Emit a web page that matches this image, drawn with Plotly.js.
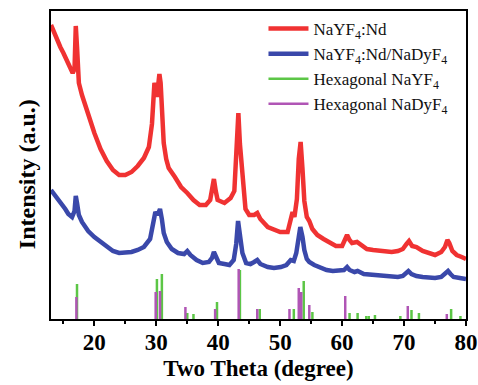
<!DOCTYPE html>
<html>
<head>
<meta charset="utf-8">
<script src="https://cdn.plot.ly/plotly-3.0.1.min.js"></script>
<style>html,body{margin:0;padding:0;background:#fff;}#chart{width:478px;height:385px;}</style>
</head>
<body>
<div id="chart"></div>
<script>
// Measured XRD pattern: NaYF4:Nd (two theta in degrees, intensity in a.u.)
const redTheta = [13.0,13.5,14.0,14.5,15.0,15.5,16.0,16.5,16.8,17.0,17.2,17.5,18.0,19.0,20.0,21.0,22.0,23.0,24.0,25.0,26.0,27.0,28.0,28.8,29.3,29.7,29.9,30.1,30.3,30.5,30.7,30.9,31.2,31.6,32.0,33.0,34.0,35.0,36.0,37.0,38.0,38.7,39.0,39.3,39.6,39.9,41.0,42.0,42.6,43.0,43.25,43.5,43.9,44.4,45.0,45.8,46.3,46.8,48.0,49.0,50.0,51.2,51.7,52.0,52.3,52.7,53.0,53.3,53.6,53.9,54.3,54.7,55.2,56.0,57.0,58.0,59.0,60.0,60.5,60.8,61.2,61.6,62.4,63.0,64.0,65.0,66.0,67.0,68.0,69.0,69.8,70.4,70.8,71.3,72.0,73.0,74.0,75.0,76.0,76.6,77.0,77.3,77.8,78.5,79.3,80.0];
const redInt = [294,286,279,272,266,259,253,246,250,293,272,236,224,204,186,170,158,149,144,144,147,153,161,172,195,236,232,222,232,245,236,205,176,160,151,142,132,126,119,114,114,119,128,140,128,119,116,121,128,170,206,175,139,110,104,104,106,100,92,89,87,87,100,107,102,120,160,177,150,118,102,98,90,84,80,77,73,73,80,84,79,76,77,74,70,69,68,67,67,68,70,75,78,73,72,68,66,64,67,72,79,76,68,64,62,60];

// Measured XRD pattern: NaYF4:Nd/NaDyF4
const blueTheta = [13.0,13.5,14.0,14.7,15.3,15.8,16.4,16.8,17.0,17.2,17.5,18.0,18.5,19.0,20.0,21.0,22.0,23.0,24.0,25.0,26.0,27.0,28.0,29.0,29.5,29.85,30.2,30.6,30.9,31.2,31.7,32.5,33.5,34.5,35.0,35.5,36.5,37.5,38.5,39.0,39.3,39.6,40.1,41.0,41.8,42.5,42.9,43.2,43.5,43.9,44.5,45.2,45.8,46.3,46.8,48.0,49.0,50.1,51.0,51.7,52.2,52.6,53.0,53.25,53.6,53.9,54.3,54.7,55.5,56.6,57.5,58.5,59.5,60.3,60.8,61.2,62.0,62.5,63.5,65.0,66.5,68.0,69.0,69.8,70.4,70.7,71.2,72.0,73.0,74.0,75.0,76.0,76.7,77.1,77.5,78.0,79.0,80.0];
const blueInt = [129,125,121,116,110,105,102,108,123,116,104,97,92,88,82,77,72,68,66,66,67,69,72,80,94,107,104,110,100,86,77,70,66,65,68,64,59,56,57,61,67,62,56,55,54,59,75,98,84,66,56,55,57,59,55,52,51,52,54,59,58,66,82,92,82,69,60,57,54,51,49,48,48,49,52,49,47,48,45,44,43,43,42,43,46,48,45,43,42,41,41,42,45,48,45,42,41,40];

// Reference pattern: hexagonal NaYF4 (stick positions and heights)
const nayf4Theta = [17.2,30.1,30.9,35.0,36.0,39.8,43.5,46.7,52.2,53.8,55.2,61.2,62.5,63.9,64.3,65.3,69.4,71.2,72.4,77.6,79.1];
const nayf4Int = [35,40,45,6,5,17,49,10,10,38,7,6,6,3,3,4,3,9,6,10,3];

// Reference pattern: hexagonal NaDyF4
const nadyf4Theta = [17.1,29.9,30.6,34.7,39.5,43.3,46.3,51.5,53.0,53.4,54.7,60.5,70.6,76.9];
const nadyf4Int = [22,27,28,12,10,50,10,10,31,27,14,23,13,5];

// Axis labels
const xTitle = 'Two Theta (degree)';
const yTitle = 'Intensity (a.u.)';

function sticks(pos, val) {
  const x = [], y = [];
  pos.forEach((p, i) => { x.push(p, p, null); y.push(0, val[i], null); });
  return {x, y};
}

const serif = 'Liberation Serif, Times New Roman, serif';
const s1 = sticks(nayf4Theta, nayf4Int);
const s2 = sticks(nadyf4Theta, nadyf4Int);

const traces = [
  {x: redTheta, y: redInt, type: 'scatter', mode: 'lines', name: 'NaYF<sub>4</sub>:Nd',
   line: {color: '#f03232', width: 4.5}},
  {x: blueTheta, y: blueInt, type: 'scatter', mode: 'lines', name: 'NaYF<sub>4</sub>:Nd/NaDyF<sub>4</sub>',
   line: {color: '#3a48aa', width: 4.5}},
  {x: s1.x, y: s1.y, type: 'scatter', mode: 'lines', name: 'Hexagonal NaYF<sub>4</sub>',
   line: {color: '#5cc646', width: 2.5}, connectgaps: false},
  {x: s2.x, y: s2.y, type: 'scatter', mode: 'lines', name: 'Hexagonal NaDyF<sub>4</sub>',
   line: {color: '#b055b5', width: 2.5}, connectgaps: false}
];

const layout = {
  width: 478, height: 385,
  margin: {l: 51, r: 12, t: 11, b: 66},
  paper_bgcolor: '#ffffff', plot_bgcolor: '#ffffff',
  showlegend: true,
  legend: {x: 0.512, y: 1.0, xanchor: 'left', yanchor: 'top', bgcolor: 'rgba(0,0,0,0)',
    font: {family: serif, size: 17, color: '#111'}, tracegroupgap: 0, itemwidth: 40},
  xaxis: {
    range: [13, 80], tickvals: [20, 30, 40, 50, 60, 70, 80],
    ticks: 'outside', ticklen: 5, tickwidth: 2, tickcolor: '#000',
    minor: {tickvals: [15, 25, 35, 45, 55, 65, 75], ticks: 'outside', ticklen: 3, tickwidth: 2, tickcolor: '#000'},
    showline: true, linewidth: 2, linecolor: '#000', mirror: true,
    showgrid: false, zeroline: false, ticklabelstandoff: -4,
    tickfont: {family: serif, size: 23, color: '#000', weight: 'bold'},
    title: {text: xTitle, standoff: 6, font: {family: serif, size: 23, color: '#000', weight: 'bold'}}
  },
  yaxis: {
    range: [0, 308], showticklabels: false, ticks: '',
    showline: true, linewidth: 2, linecolor: '#000', mirror: true,
    showgrid: false, zeroline: false
  },
  annotations: [{
    text: yTitle, xref: 'paper', yref: 'paper', x: -0.058, y: 0.47,
    xanchor: 'center', yanchor: 'middle', textangle: -90, showarrow: false,
    font: {family: serif, size: 24, color: '#000', weight: 'bold'}
  }]
};

Plotly.newPlot('chart', traces, layout, {displayModeBar: false, staticPlot: true});
</script>
</body>
</html>
